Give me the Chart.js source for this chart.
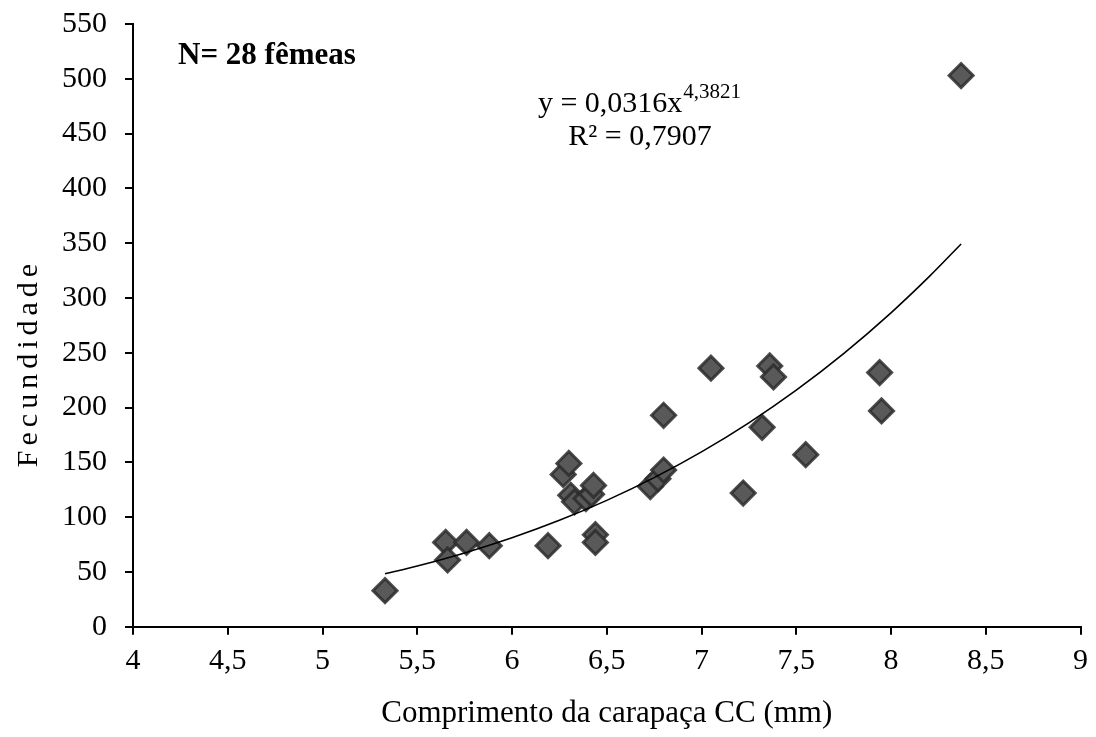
<!DOCTYPE html>
<html>
<head>
<meta charset="utf-8">
<script src="https://cdn.jsdelivr.net/npm/chart.js@4.4.1/dist/chart.umd.min.js"></script>
<style>
  html, body { margin: 0; padding: 0; background: #fff; }
  #wrap { width: 1096px; height: 737px; }
</style>
</head>
<body>
<div id="wrap"><canvas id="grafico"></canvas></div>
<script>
// comprimento da carapaça (mm) e fecundidade de cada fêmea
const comprimento = [5.33, 5.65, 5.66, 5.76, 5.88, 6.19, 6.27, 6.30, 6.31, 6.33,
                     6.39, 6.42, 6.43, 6.44, 6.44, 6.73, 6.77, 6.80, 6.80, 7.05,
                     7.22, 7.32, 7.36, 7.38, 7.55, 7.94, 7.95, 8.37];
const fecundidade = [33, 77, 61, 77, 74, 74, 139, 149, 120, 114,
                     117, 121, 129, 84, 77, 128, 135, 143, 193, 236,
                     122, 182, 238, 228, 157, 232, 197, 503];

// linha de tendência (potência) informada no gráfico
const coefA = 0.0316;
const expoenteB = 4.3821;
const xTendencia = [5.33, 5.5, 5.75, 6, 6.25, 6.5, 6.75, 7, 7.25, 7.5, 7.75, 8, 8.2, 8.37];

const xTicks = [4, 4.5, 5, 5.5, 6, 6.5, 7, 7.5, 8, 8.5, 9];
const yTicks = [0, 50, 100, 150, 200, 250, 300, 350, 400, 450, 500, 550];

const pontos = comprimento.map((c, i) => ({ x: c, y: fecundidade[i] }));
const tendencia = xTendencia.map(x => ({ x: x, y: coefA * Math.pow(x, expoenteB) }));

const fonte = 'Liberation Serif, Times New Roman, serif';

// textos dentro da área do gráfico + título do eixo y (espaçado)
const anotacoes = {
    id: 'anotacoes',
    afterDraw(chart) {
        const ctx = chart.ctx;
        ctx.save();
        ctx.fillStyle = '#000';
        ctx.textBaseline = 'alphabetic';
        ctx.font = 'bold 31px ' + fonte;
        ctx.textAlign = 'left';
        ctx.fillText('N= 28 fêmeas', 178, 64);

        ctx.font = '30px ' + fonte;
        const base = 'y = 0,0316x';
        const sup = '4,3821';
        const wBase = ctx.measureText(base).width;
        ctx.font = '21px ' + fonte;
        const wSup = ctx.measureText(sup).width;
        const inicio = 639 - (wBase + wSup) / 2;
        ctx.font = '30px ' + fonte;
        ctx.fillText(base, inicio, 112);
        ctx.font = '21px ' + fonte;
        ctx.fillText(sup, inicio + wBase + 1, 98);
        ctx.font = '30px ' + fonte;
        ctx.textAlign = 'center';
        ctx.fillText('R² = 0,7907', 640, 145);

        // título do eixo y
        ctx.translate(37, 363);
        ctx.rotate(-Math.PI / 2);
        ctx.font = '30px ' + fonte;
        ctx.letterSpacing = '5px';
        ctx.fillText('Fecundidade', 0, 0);
        ctx.restore();
    }
};

const eixo = {
    grid: { display: true, drawOnChartArea: false, drawTicks: true, tickLength: 8, color: '#000', lineWidth: 2 },
    border: { display: true, color: '#000', width: 2 }
};

new Chart(document.getElementById('grafico'), {
    type: 'scatter',
    data: {
        datasets: [
            {
                label: 'Fecundidade',
                data: pontos,
                pointStyle: 'rectRot',
                pointRadius: 12,
                pointHoverRadius: 12,
                backgroundColor: '#595959',
                borderColor: 'rgba(45,45,45,0.85)',
                borderWidth: 3,
                order: 1
            },
            {
                label: 'Potência',
                type: 'line',
                data: tendencia,
                borderColor: '#000',
                borderWidth: 1.6,
                pointRadius: 0,
                cubicInterpolationMode: 'monotone',
                fill: false,
                order: 0
            }
        ]
    },
    options: {
        responsive: true,
        maintainAspectRatio: false,
        animation: false,
        layout: { padding: { top: 24, right: 4, left: 2, bottom: 1 } },
        plugins: {
            legend: { display: false },
            tooltip: { enabled: false }
        },
        scales: {
            x: {
                type: 'linear',
                min: 4,
                max: 9,
                afterBuildTicks: axis => { axis.ticks = xTicks.map(v => ({ value: v })); },
                ticks: {
                    color: '#000',
                    font: { family: fonte, size: 30 },
                    padding: 8,
                    maxRotation: 0,
                    callback: v => String(v).replace('.', ',')
                },
                title: {
                    display: true,
                    text: 'Comprimento da carapaça CC (mm)',
                    color: '#000',
                    font: { family: fonte, size: 31 },
                    padding: { top: 8 }
                },
                ...eixo
            },
            y: {
                type: 'linear',
                min: 0,
                max: 550,
                afterBuildTicks: axis => { axis.ticks = yTicks.map(v => ({ value: v })); },
                afterFit: axis => { axis.paddingTop = 0; axis.paddingBottom = 0; },
                ticks: {
                    color: '#000',
                    font: { family: fonte, size: 30 },
                    padding: 18
                },
                title: {
                    display: true,
                    text: 'Fecundidade',
                    color: 'rgba(0,0,0,0)',
                    font: { family: fonte, size: 30 },
                    padding: { top: 0, bottom: 6 }
                },
                ...eixo
            }
        }
    },
    plugins: [anotacoes]
});
</script>
</body>
</html>
